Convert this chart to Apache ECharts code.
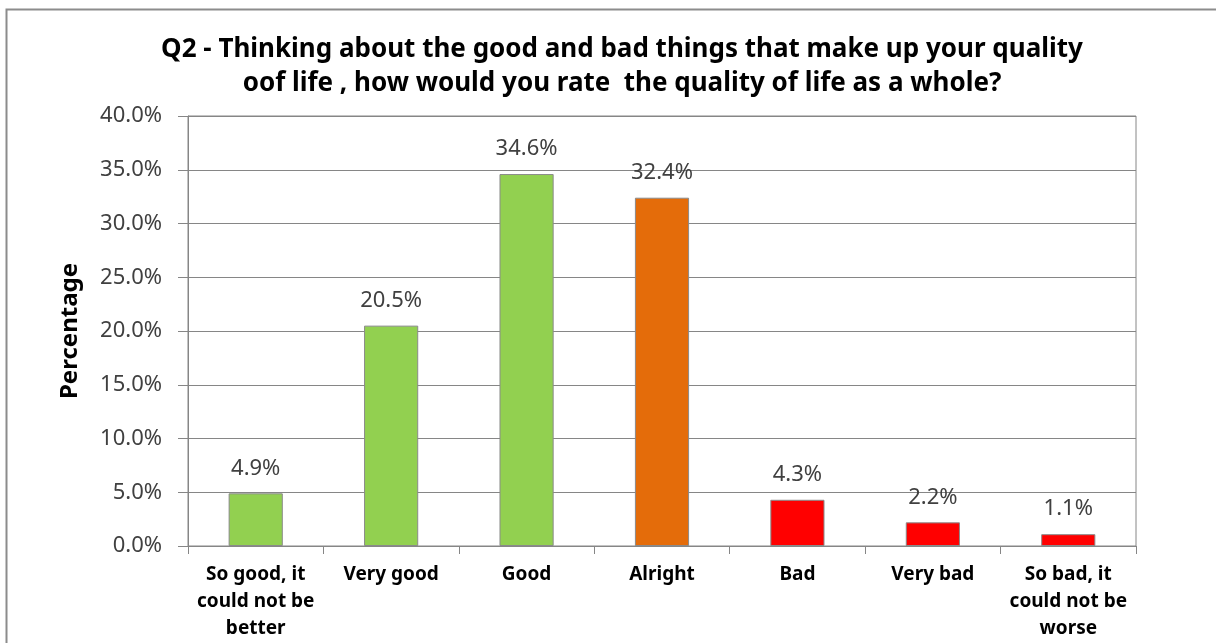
<!DOCTYPE html>
<html>
<head>
<meta charset="utf-8">
<script src="https://cdn.jsdelivr.net/npm/echarts@6/dist/echarts.min.js"></script>
<style>
html,body{margin:0;padding:0;background:#fff;}
#chart{width:1216px;height:643px;}
</style>
</head>
<body>
<div id="chart"></div>
<script>
const titleLines = ["Q2 - Thinking about the good and bad things that make up your quality", "oof life , how would you rate  the quality of life as a whole?"];
const categories = ["So good, it\ncould not be\nbetter", "Very good", "Good", "Alright", "Bad", "Very bad", "So bad, it\ncould not be\nworse"];
const values = [4.9, 20.5, 34.6, 32.4, 4.3, 2.2, 1.1];
const yTicks = [0, 5, 10, 15, 20, 25, 30, 35, 40];
const barColors = ["#92D050", "#92D050", "#92D050", "#E46C0A", "#FF0000", "#FF0000", "#FF0000"];

const FONT = "'Noto Sans', 'Open Sans', sans-serif";
const chart = echarts.init(document.getElementById('chart'));
chart.setOption({
  animation: false,
  backgroundColor: '#fff',
  graphic: [{
    type: 'rect',
    shape: {x: 6.5, y: 9.5, width: 1260, height: 700},
    style: {fill: 'none', stroke: '#8c8c8c', lineWidth: 2},
    silent: true
  }],
  title: {
    text: titleLines.join('\n'),
    left: 617,
    textAlign: 'center',
    top: 28,
    textStyle: {fontFamily: FONT, fontWeight: 'bold', fontSize: 26, color: '#000', lineHeight: 34}
  },
  grid: {left: 188, right: 80, top: 116, bottom: 97, show: true, borderColor: '#868686', borderWidth: 1},
  xAxis: {
    type: 'category',
    data: categories,
    axisLine: {lineStyle: {color: '#868686'}},
    axisTick: {show: true, length: 8, lineStyle: {color: '#868686'}},
    axisLabel: {fontFamily: FONT, fontWeight: 'bold', fontSize: 19, color: '#000', lineHeight: 27, margin: 15, interval: 0}
  },
  yAxis: {
    type: 'value',
    min: yTicks[0],
    max: yTicks[yTicks.length - 1],
    interval: yTicks[1] - yTicks[0],
    name: 'Percentage',
    nameLocation: 'middle',
    nameGap: 106,
    nameRotate: 90,
    nameTextStyle: {fontFamily: FONT, fontWeight: 'bold', fontSize: 24, color: '#000'},
    axisLine: {show: true, lineStyle: {color: '#868686'}},
    axisTick: {show: true, length: 10, lineStyle: {color: '#868686'}},
    splitLine: {lineStyle: {color: '#868686'}},
    axisLabel: {fontFamily: FONT, fontSize: 22, color: '#404040', margin: 26, formatter: v => v.toFixed(1) + '%'}
  },
  series: [{
    type: 'bar',
    barWidth: '40%',
    data: values.map((v, i) => ({value: v, itemStyle: {color: barColors[i]}})),
    itemStyle: {borderColor: '#8a8a8a', borderWidth: 1},
    label: {show: true, position: 'top', distance: 14, fontFamily: FONT, fontSize: 22, color: '#404040', formatter: p => p.value.toFixed(1) + '%'}
  }]
});
</script>
</body>
</html>
